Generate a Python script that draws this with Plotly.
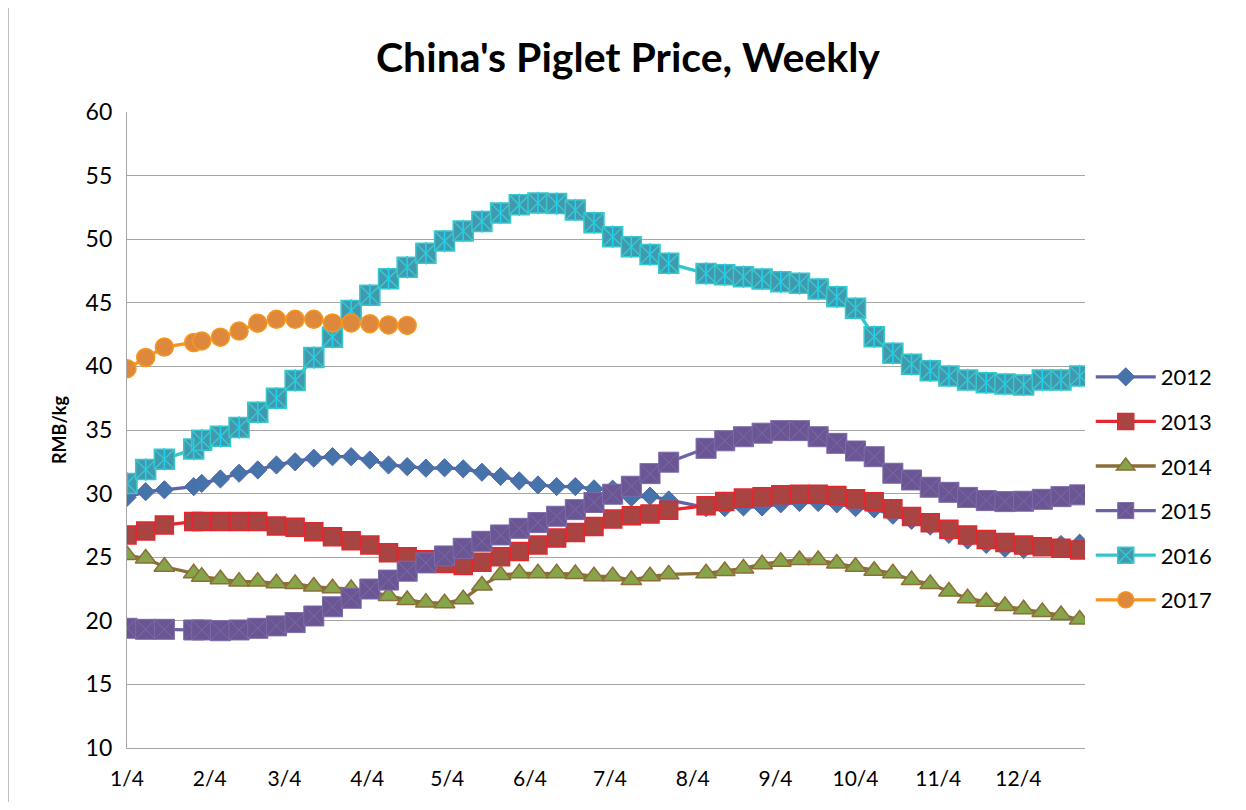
import pandas as pd
import plotly.graph_objects as go

# ---- data (week dates shared by all years, mapped to a common calendar) ----
dates = ["1/4", "1/11", "1/18", "1/29", "2/1", "2/8", "2/15", "2/22",
         "3/1", "3/8", "3/15", "3/22", "3/29", "4/5", "4/12", "4/19", "4/26",
         "5/3", "5/10", "5/17", "5/24", "5/31", "6/7", "6/14", "6/21", "6/28",
         "7/5", "7/12", "7/19", "7/26", "8/9", "8/16", "8/23", "8/30",
         "9/6", "9/13", "9/20", "9/27", "10/4", "10/11", "10/18", "10/25",
         "11/1", "11/8", "11/15", "11/22", "11/29", "12/6", "12/13", "12/20", "12/27"]

y2012 = [29.7, 30.15, 30.3, 30.55, 30.8, 31.15, 31.6, 31.86,
         32.25, 32.5, 32.78, 32.9, 32.9, 32.64, 32.25, 32.12, 32.0,
         32.03, 31.95, 31.68, 31.35, 31.0, 30.68, 30.55, 30.55, 30.37,
         30.35, 29.7, 29.8, 29.5, 28.9, 28.9, 28.95, 28.95,
         29.2, 29.3, 29.3, 29.2, 28.9, 28.8, 28.3, 27.9,
         27.45, 26.8, 26.35, 26.0, 25.7, 25.6, 25.8, 26.0, 26.1]

y2013 = [26.75, 27.06, 27.53, 27.8, 27.8, 27.8, 27.8, 27.8,
         27.45, 27.35, 27.0, 26.6, 26.3, 25.96, 25.35, 25.04, 24.8,
         24.5, 24.35, 24.6, 25.04, 25.45, 25.96, 26.5, 26.95, 27.42,
         28.0, 28.25, 28.4, 28.7, 29.05, 29.37, 29.65, 29.76,
         29.9, 29.94, 29.94, 29.85, 29.6, 29.35, 28.8, 28.2,
         27.7, 27.2, 26.75, 26.4, 26.15, 25.96, 25.83, 25.7, 25.57]

y2014 = [25.17, 24.9, 24.25, 23.73, 23.47, 23.27, 23.08, 23.08,
         22.95, 22.9, 22.69, 22.56, 22.5, 22.3, 21.95, 21.64, 21.43,
         21.38, 21.7, 22.77, 23.6, 23.73, 23.73, 23.73, 23.68, 23.5,
         23.5, 23.2, 23.5, 23.65, 23.73, 23.92, 24.12, 24.45,
         24.65, 24.78, 24.78, 24.5, 24.25, 23.94, 23.73, 23.2,
         22.9, 22.3, 21.77, 21.5, 21.16, 20.9, 20.7, 20.45, 20.1]

y2015 = [19.41, 19.33, 19.33, 19.28, 19.28, 19.22, 19.28, 19.41,
         19.6, 19.86, 20.38, 21.1, 21.77, 22.5, 23.2, 23.9, 24.55,
         25.1, 25.7, 26.25, 26.75, 27.27, 27.72, 28.22, 28.74, 29.3,
         29.95, 30.58, 31.57, 32.47, 33.56, 34.15, 34.47, 34.75,
         34.95, 34.95, 34.47, 33.95, 33.35, 32.9, 31.6, 31.07,
         30.5, 30.1, 29.7, 29.45, 29.37, 29.4, 29.55, 29.76, 29.9]

y2016 = [30.8, 31.9, 32.7, 33.5, 34.2, 34.5, 35.2, 36.4,
         37.5, 38.9, 40.7, 42.3, 44.4, 45.6, 46.9, 47.8, 48.9,
         49.85, 50.65, 51.4, 52.06, 52.7, 52.85, 52.8, 52.3, 51.3,
         50.2, 49.4, 48.8, 48.1, 47.3, 47.2, 47.05, 46.87,
         46.66, 46.53, 46.08, 45.48, 44.57, 42.34, 41.03, 40.17,
         39.66, 39.25, 38.93, 38.72, 38.62, 38.54, 38.93, 38.93, 39.25]

y2017 = [39.82, 40.7, 41.52, 41.88, 42.0, 42.3, 42.78, 43.4,
         43.7, 43.7, 43.7, 43.42, 43.42, 43.36, 43.26, 43.22]

tick_labels = ["1/4", "2/4", "3/4", "4/4", "5/4", "6/4",
               "7/4", "8/4", "9/4", "10/4", "11/4", "12/4"]


def to_dt(labels):
    return pd.to_datetime(["2001/" + s for s in labels], format="%Y/%m/%d")


x = to_dt(dates)
tickvals = to_dt(tick_labels)

FONT = "Lato, 'Open Sans', sans-serif"

series = [
    dict(name="2012", y=y2012, line="#5F62A6", sym="diamond", size=14,
         fill="#4673AA", edge="#4E6AA8", ew=1),
    dict(name="2013", y=y2013, line="#E8262E", sym="square", size=18,
         fill="#A84442", edge="#E5262D", ew=1.5),
    dict(name="2014", y=y2014, line="#8C6E38", sym="triangle-up", size=18,
         fill="#86A449", edge="#8C6E38", ew=1.5),
    dict(name="2015", y=y2015, line="#6A63A6", sym="square-x", size=20,
         fill="#6B5694", edge="#7C6AAB", ew=1),
    dict(name="2016", y=y2016, line="#33C7CB", sym="square-x", size=20,
         fill="#4299AF", edge="#35C8CC", ew=1.5),
    dict(name="2017", y=y2017, line="#F7941D", sym="circle", size=18,
         fill="#DE883E", edge="#F7961F", ew=1.5),
]

fig = go.Figure()
for s in series:
    xs = x[:len(s["y"])]
    fig.add_trace(go.Scatter(
        x=xs, y=s["y"], name=s["name"], mode="lines+markers",
        legendgroup=s["name"],
        line=dict(color=s["line"], width=3.3),
        marker=dict(symbol=s["sym"], size=s["size"], color=s["fill"],
                    line=dict(color=s["edge"], width=s["ew"])),
    ))
    if s["name"] == "2016":
        # vertical stroke of the asterisk inside the 2016 marker
        fig.add_trace(go.Scatter(
            x=xs, y=s["y"], mode="markers", showlegend=False,
            legendgroup=s["name"], hoverinfo="skip",
            marker=dict(symbol="line-ns-open", size=16,
                        line=dict(color=s["edge"], width=1.5)),
        ))

W, H = 1230, 794
L, T = 119, 104
PW, PH = 958, 636

fig.update_layout(
    width=W, height=H,
    margin=dict(l=L, r=W - L - PW, t=T, b=H - T - PH),
    paper_bgcolor="white", plot_bgcolor="white",
    font=dict(family=FONT, color="#000000"),
    title=dict(text="China's Piglet Price, Weekly", x=620 / W, xanchor="center",
               y=1 - 50 / H, yanchor="middle",
               font=dict(family=FONT, size=41, color="#000000", weight=700)),
    legend=dict(x=1.006, y=(PH - (356 - 112)) / PH, xanchor="left", yanchor="top",
                font=dict(family=FONT, size=22, color="#000000"),
                itemwidth=60, tracegroupgap=13, bgcolor="rgba(0,0,0,0)"),
    showlegend=True,
)

fig.update_xaxes(
    type="date",
    range=[pd.Timestamp("2001-01-04"), pd.Timestamp("2001-12-29")],
    tickvals=tickvals, ticktext=tick_labels,
    showgrid=False, zeroline=False,
    showline=True, linecolor="#A6A6A6", linewidth=1.3,
    ticks="", ticklabelstandoff=12,
    tickfont=dict(family=FONT, size=21, color="#000000"),
)

fig.update_yaxes(
    range=[10, 60], dtick=5, tick0=10,
    showgrid=True, gridcolor="#A6A6A6", gridwidth=1.3,
    zeroline=False, showline=True, linecolor="#A6A6A6", linewidth=1.3,
    ticks="", ticklabelstandoff=9,
    tickfont=dict(family=FONT, size=23, color="#000000"),
    title=dict(text="RMB/kg", standoff=14,
               font=dict(family=FONT, size=18, color="#000000", weight=700)),
)

# chart-area frame line on the left edge
fig.add_shape(type="line", xref="paper", yref="paper",
              x0=-(L - 0.5) / PW, x1=-(L - 0.5) / PW, y0=-(H - T - PH) / PH, y1=(PH + T) / PH,
              line=dict(color="#BFBFBF", width=1))

fig.write_html("out.html")
